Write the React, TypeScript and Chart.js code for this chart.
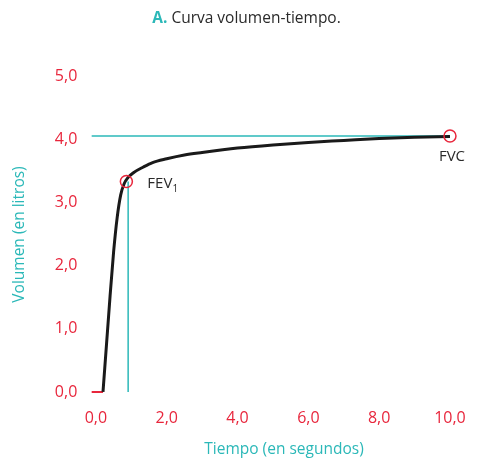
import React, { useEffect, useRef } from "react";
import { Chart, registerables } from "chart.js";

Chart.register(...registerables);

// Data
const curveTime = [0.2, 0.3, 0.4, 0.5, 0.6, 0.7, 0.8, 0.9, 1.06, 1.34, 1.6, 2.0, 2.5, 3.0, 4.0, 5.0, 6.0, 7.0, 8.0, 9.0, 10.0];
const curveVolume = [0.0, 0.76, 1.52, 2.22, 2.76, 3.12, 3.3, 3.39, 3.47, 3.56, 3.63, 3.69, 3.75, 3.79, 3.86, 3.91, 3.95, 3.98, 4.01, 4.03, 4.045];
const xTicks = [0, 2, 4, 6, 8, 10];
const yTicks = [0, 1, 2, 3, 4, 5];
const fev1 = { x: 0.86, y: 3.33 };
const fvc = { x: 10.0, y: 4.05 };
const baselineX = [-0.12, 0.2];
const fvcLineX = [-0.12, 10.0];
const fev1LineX = 0.91;

const RED = "#e8263c";
const TEAL = "#2bb8b8";
const DARK = "#2a2a2a";
const FONT = '"Open Sans", "Noto Sans", sans-serif';

const fmt = (v: number) => v.toFixed(1).replace(".", ",");

const textPlugin = {
  id: "textPlugin",
  afterDraw(chart: any) {
    const ctx = chart.ctx;
    const xs = chart.scales.x;
    const ys = chart.scales.y;
    ctx.save();
    // Title
    ctx.textBaseline = "middle";
    ctx.textAlign = "left";
    ctx.font = `bold 15.5px ${FONT}`;
    const aTxt = "A.";
    const aW = ctx.measureText(aTxt + " ").width;
    ctx.font = `15.5px ${FONT}`;
    const restTxt = "Curva volumen-tiempo.";
    const rW = ctx.measureText(restTxt).width;
    const total = aW + rW;
    const startX = 246.5 - total / 2;
    ctx.font = `bold 15.5px ${FONT}`;
    ctx.fillStyle = TEAL;
    ctx.fillText(aTxt, startX, 19);
    ctx.font = `15.5px ${FONT}`;
    ctx.fillStyle = DARK;
    ctx.fillText(restTxt, startX + aW, 19);

    // Axis titles
    ctx.font = `15.5px ${FONT}`;
    ctx.fillStyle = TEAL;
    ctx.textAlign = "center";
    ctx.fillText("Tiempo (en segundos)", 284, 450);
    ctx.save();
    ctx.translate(20, 234.5);
    ctx.rotate(-Math.PI / 2);
    ctx.fillText("Volumen (en litros)", 0, 0);
    ctx.restore();

    // Point labels
    ctx.fillStyle = DARK;
    ctx.textAlign = "left";
    ctx.font = `15px ${FONT}`;
    const fx = xs.getPixelForValue(fev1.x) + 21;
    const fy = ys.getPixelForValue(fev1.y) + 2;
    ctx.fillText("FEV", fx, fy);
    const w = ctx.measureText("FEV").width;
    ctx.font = `10px ${FONT}`;
    ctx.fillText("1", fx + w, fy + 6);
    ctx.font = `15px ${FONT}`;
    ctx.textAlign = "center";
    ctx.fillText("FVC", xs.getPixelForValue(fvc.x) + 2, ys.getPixelForValue(fvc.y) + 21);
    ctx.restore();
  },
};

export default function App() {
  const ref = useRef<HTMLCanvasElement | null>(null);
  useEffect(() => {
    if (!ref.current) return;
    const curve = curveTime.map((t, i) => ({ x: t, y: curveVolume[i] }));
    const chart = new Chart(ref.current, {
      type: "line",
      data: {
        datasets: [
          {
            type: "scatter",
            data: [fev1, fvc],
            pointStyle: "circle",
            pointRadius: 6,
            pointBorderColor: RED,
            pointBackgroundColor: "rgba(0,0,0,0)",
            pointBorderWidth: 1.5,
            showLine: false,
          } as any,
          {
            data: curve,
            borderColor: "#1a1a1a",
            borderWidth: 3,
            pointRadius: 0,
            cubicInterpolationMode: "monotone",
            fill: false,
          },
          {
            data: fvcLineX.map((x) => ({ x, y: fvc.y })),
            borderColor: TEAL,
            borderWidth: 1.5,
            pointRadius: 0,
          },
          {
            data: [
              { x: fev1LineX, y: 0 },
              { x: fev1LineX, y: fev1.y },
            ],
            borderColor: TEAL,
            borderWidth: 1.5,
            pointRadius: 0,
          },
          {
            data: baselineX.map((x) => ({ x, y: 0 })),
            borderColor: RED,
            borderWidth: 2,
            pointRadius: 0,
          },
        ],
      },
      options: {
        animation: false,
        responsive: false,
        maintainAspectRatio: false,
        layout: { padding: { top: 63.4, right: 8.1, left: 0, bottom: 0 } },
        plugins: {
          legend: { display: false },
          tooltip: { enabled: false },
          title: { display: false },
        },
        scales: {
          x: {
            type: "linear",
            min: -0.3,
            max: 10.3,
            afterBuildTicks: (s: any) => {
              s.ticks = xTicks.map((v) => ({ value: v }));
            },
            afterFit: (s: any) => {
              s.height = 60.7;
            },
            grid: { display: false, drawTicks: false },
            border: { display: false },
            ticks: {
              color: RED,
              font: { family: FONT, size: 16 },
              padding: 11,
              maxRotation: 0,
              autoSkip: false,
              callback: (v: any) => fmt(Number(v)),
            },
          },
          y: {
            type: "linear",
            min: -0.1,
            max: 5.2,
            afterBuildTicks: (s: any) => {
              s.ticks = yTicks.map((v) => ({ value: v }));
            },
            afterFit: (s: any) => {
              s.width = 85.3;
            },
            grid: { display: false, drawTicks: false },
            border: { display: false },
            ticks: {
              color: RED,
              font: { family: FONT, size: 16 },
              padding: 8,
              autoSkip: false,
              callback: (v: any) => fmt(Number(v)),
            },
          },
        },
      },
      plugins: [textPlugin],
    } as any);
    return () => chart.destroy();
  }, []);
  return (
    <div style={{ position: "absolute", left: 0, top: 0, width: 477, height: 459 }}>
      <canvas ref={ref} width={477} height={459} style={{ width: 477, height: 459 }} />
    </div>
  );
}
